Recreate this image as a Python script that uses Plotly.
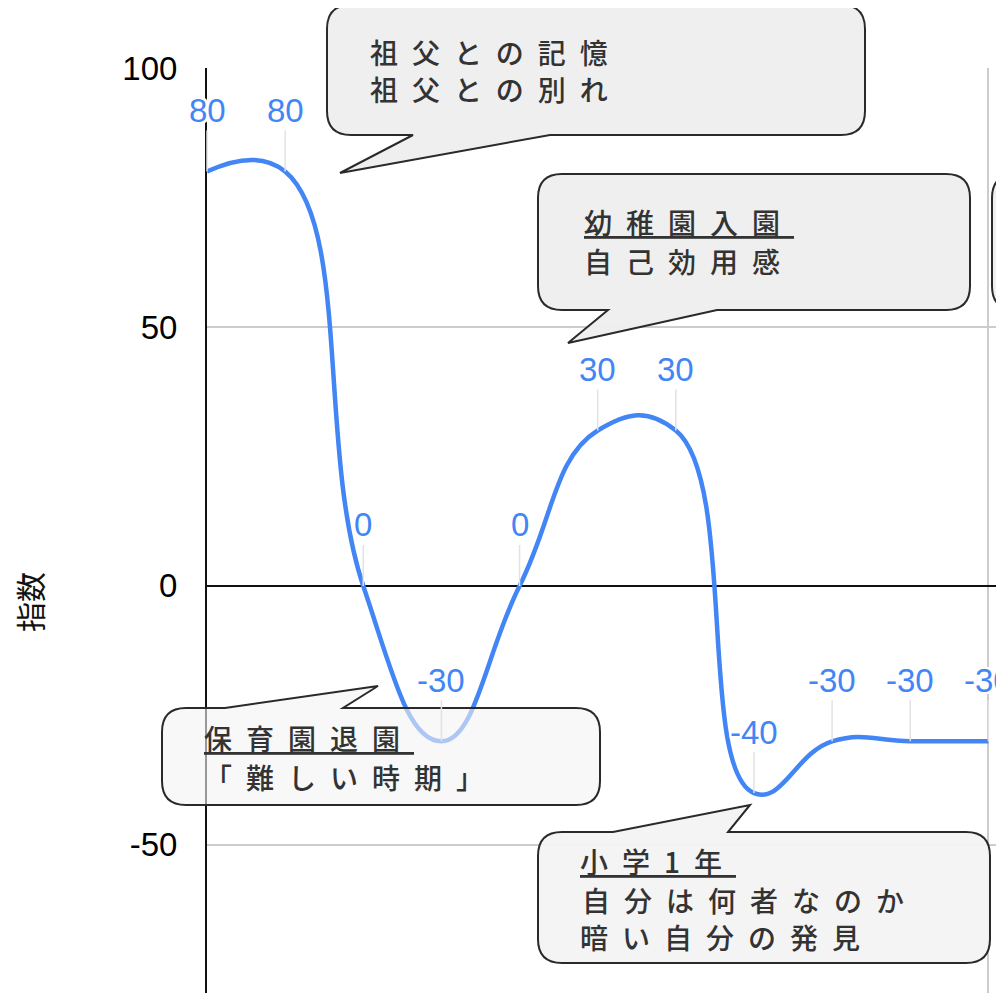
import plotly.graph_objects as go

# ---------------- data ----------------
x_idx = [0, 1, 2, 3, 4, 5, 6, 7, 8, 9, 10]
values = [80, 80, 0, -30, 0, 30, 30, -40, -30, -30, -30]
y_ticks = [-50, 0, 50, 100]
y_title = "指数"

callout_texts = [
    ["祖父との記憶", "祖父との別れ"],
    ["幼稚園入園", "自己効用感"],
    ["保育園退園", "「難しい時期」"],
    ["小学1年", "自分は何者なのか", "暗い自分の発見"],
]
callout_underline_first = [False, True, True, True]

# ---------------- layout geometry (pixels) ----------------
OFF = 8                      # page body margin
W, H = 996, 996
ML, MR, MT, MB = 199, 0, 60, 11
PW, PH = W - ML - MR, H - MT - MB
X_RANGE = [0, 10.2]
Y_RANGE = [-78.6, 100]

BLUE = "#4285F4"


def to_paper(px, py):
    """page pixel coords -> paper coords"""
    fx, fy = px - OFF, py - OFF
    return ((fx - ML) / PW, (H - MB - fy) / PH)


def fmt(ps):
    return " ".join("%.5f,%.5f" % to_paper(px, py) for px, py in ps)


def bubble_path(x0, y0, x1, y1, r, tail=None):
    pts = [("M", [(x0 + r, y0)])]
    if tail and tail[0] == "top":
        _, bx0, bx1, tx, ty = tail
        pts += [("L", [(bx0, y0)]), ("L", [(tx, ty)]), ("L", [(bx1, y0)])]
    pts += [("L", [(x1 - r, y0)]), ("Q", [(x1, y0), (x1, y0 + r)]),
            ("L", [(x1, y1 - r)]), ("Q", [(x1, y1), (x1 - r, y1)])]
    if tail and tail[0] == "bottom":
        _, bx0, bx1, tx, ty = tail
        pts += [("L", [(bx1, y1)]), ("L", [(tx, ty)]), ("L", [(bx0, y1)])]
    pts += [("L", [(x0 + r, y1)]), ("Q", [(x0, y1), (x0, y1 - r)]),
            ("L", [(x0, y0 + r)]), ("Q", [(x0, y0), (x0 + r, y0)])]
    return " ".join("%s %s" % (c, fmt(p)) for c, p in pts) + " Z"


def open_box_path(x0, y0, y1, r, xend):
    pts = [("M", [(xend, y0)]), ("L", [(x0 + r, y0)]), ("Q", [(x0, y0), (x0, y0 + r)]),
           ("L", [(x0, y1 - r)]), ("Q", [(x0, y1), (x0 + r, y1)]), ("L", [(xend, y1)])]
    return " ".join("%s %s" % (c, fmt(p)) for c, p in pts)


fig = go.Figure()

fig.add_trace(go.Scatter(
    x=x_idx, y=values, mode="lines",
    line=dict(color=BLUE, width=4.5, shape="spline", smoothing=1.3),
    hoverinfo="skip", showlegend=False,
))

label_font = dict(
    family="Liberation Sans, Arial, sans-serif", size=33, color=BLUE,
    shadow="2px 2px 0 #fff, -2px -2px 0 #fff, 2px -2px 0 #fff, -2px 2px 0 #fff, 0 2px 0 #fff, 0 -2px 0 #fff, 2px 0 0 #fff, -2px 0 0 #fff",
)
for xi, v in zip(x_idx, values):
    fig.add_annotation(
        x=xi, y=v, xref="x", yref="y", text=str(v),
        showarrow=True, ax=0, ay=-61, arrowhead=0, arrowwidth=1.5,
        arrowcolor="#e2e2e2", standoff=0, font=label_font,
    )

# callout bubbles (page pixel geometry)
bubbles = [
    dict(box=(327, 5, 865, 135), tail=("bottom", 413, 550, 340, 173), fill="rgba(238,238,238,0.97)"),
    dict(box=(538, 174, 970, 310), tail=("bottom", 608, 717, 568, 343), fill="rgba(238,238,238,0.97)"),
    dict(box=(162, 708, 600, 805), tail=("top", 225, 343, 378, 686), fill="rgba(243,243,243,0.6)"),
    dict(box=(538, 832, 990, 963), tail=("top", 613, 728, 750, 805), fill="rgba(243,243,243,0.95)"),
]
for b in bubbles:
    x0, y0, x1, y1 = b["box"]
    fig.add_shape(type="path", xref="paper", yref="paper",
                  path=bubble_path(x0, y0, x1, y1, 24, b["tail"]),
                  fillcolor=b["fill"], line=dict(color="#2a2a2a", width=2), layer="above")

fig.add_shape(type="path", xref="paper", yref="paper",
              path=open_box_path(992, 174, 310, 24, 1060),
              fillcolor="rgba(238,238,238,0.97)", line=dict(color="#2a2a2a", width=2), layer="above")

# callout texts (left x, center y per line, page pixels)
text_pos = [
    [(368, 52), (368, 89)],
    [(582, 222), (582, 261)],
    [(202, 738), (202, 777)],
    [(578, 861), (580, 900), (578, 937)],
]
for lines, poss, ul in zip(callout_texts, text_pos, callout_underline_first):
    for i, (t, (px, py)) in enumerate(zip(lines, poss)):
        xp, yp = to_paper(px, py)
        fig.add_annotation(
            x=xp, y=yp, xref="paper", yref="paper", xanchor="left", yanchor="middle",
            text='<span style="letter-spacing:14px">%s</span>' % t, showarrow=False,
            font=dict(family="Noto Sans CJK JP, sans-serif", size=28, color="#333333",
                      weight=500,
                      lineposition="under" if (ul and i == 0) else "none"),
        )

# y-axis title
xt, yt = to_paper(29, 602)
fig.add_annotation(x=xt, y=yt, xref="paper", yref="paper", text=y_title, textangle=-90,
                   xanchor="center", yanchor="middle",
                   showarrow=False, font=dict(family="Noto Sans CJK JP, sans-serif", size=30, color="#111"))

fig.update_layout(
    width=W, height=H,
    margin=dict(l=ML, r=MR, t=MT, b=MB, pad=0),
    paper_bgcolor="white", plot_bgcolor="white",
    showlegend=False,
    xaxis=dict(range=X_RANGE, showticklabels=False, showgrid=True, gridcolor="#cccccc", gridwidth=2,
               tick0=0, dtick=10, zeroline=False, showline=False, ticks=""),
    yaxis=dict(range=Y_RANGE, tickvals=y_ticks, ticktext=[str(v) for v in y_ticks],
               showgrid=True, gridcolor="#cccccc", gridwidth=1.5,
               zeroline=True, zerolinecolor="#111", zerolinewidth=2,
               showline=True, linecolor="#111", linewidth=2,
               ticks="", ticklabelstandoff=21,
               tickfont=dict(family="Liberation Sans, Arial, sans-serif", size=33, color="black")),
)

fig.write_html("out.html")
